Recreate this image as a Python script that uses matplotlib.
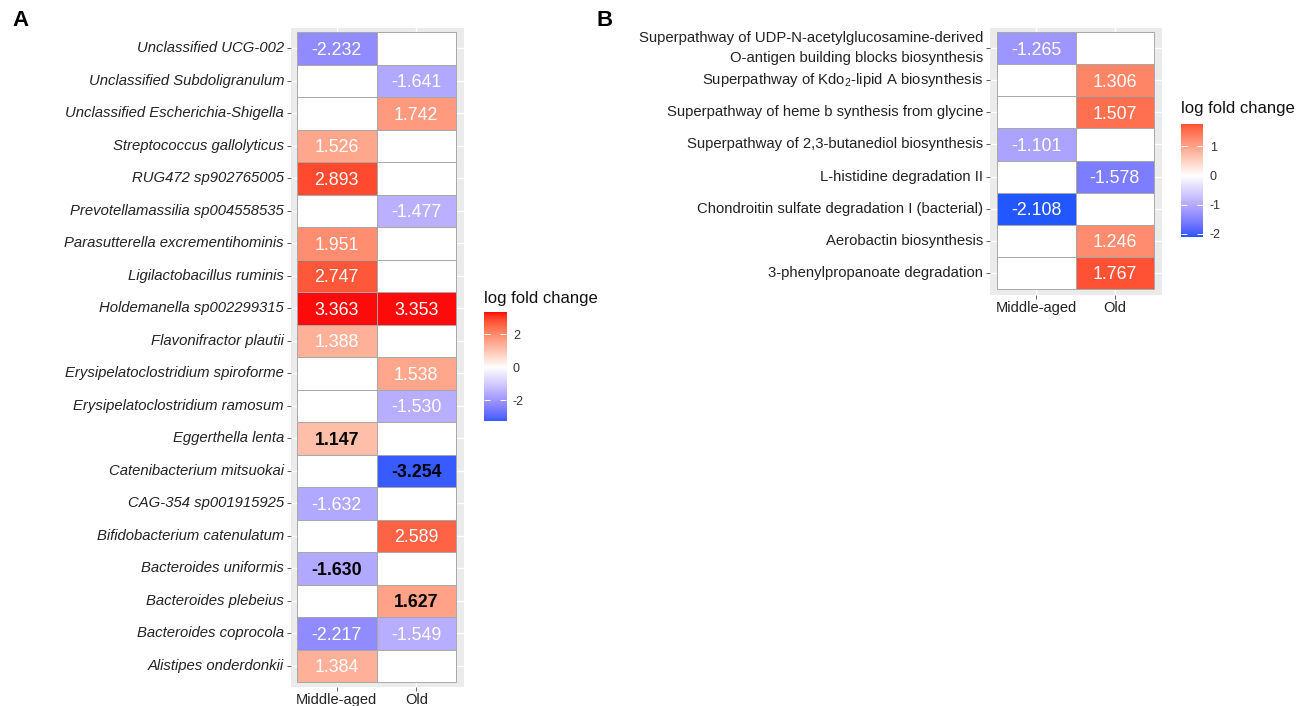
import numpy as np
import matplotlib
matplotlib.use("Agg")
import matplotlib.pyplot as plt
from matplotlib.colors import ListedColormap, Normalize

plt.rcParams['font.family'] = ['Liberation Sans', 'DejaVu Sans']
plt.rcParams['mathtext.fontset'] = 'custom'
plt.rcParams['mathtext.rm'] = 'Liberation Sans'
plt.rcParams['axes.unicode_minus'] = False

groups = ["Middle-aged", "Old"]

taxa = [
    "Unclassified UCG-002", "Unclassified Subdoligranulum",
    "Unclassified Escherichia-Shigella", "Streptococcus gallolyticus",
    "RUG472 sp902765005", "Prevotellamassilia sp004558535",
    "Parasutterella excrementihominis", "Ligilactobacillus ruminis",
    "Holdemanella sp002299315", "Flavonifractor plautii",
    "Erysipelatoclostridium spiroforme", "Erysipelatoclostridium ramosum",
    "Eggerthella lenta", "Catenibacterium mitsuokai",
    "CAG-354 sp001915925", "Bifidobacterium catenulatum",
    "Bacteroides uniformis", "Bacteroides plebeius",
    "Bacteroides coprocola", "Alistipes onderdonkii",
]
taxa_middle = [-2.232, np.nan, np.nan, 1.526, 2.893, np.nan, 1.951, 2.747, 3.363, 1.388,
               np.nan, np.nan, 1.147, np.nan, -1.632, np.nan, -1.630, np.nan, -2.217, 1.384]
taxa_old = [np.nan, -1.641, 1.742, np.nan, np.nan, -1.477, np.nan, np.nan, 3.353, np.nan,
            1.538, -1.530, np.nan, -3.254, np.nan, 2.589, np.nan, 1.627, -1.549, np.nan]
# cells whose value is printed in bold black
taxa_bold = [(12, 0), (13, 1), (16, 0), (17, 1)]

pathways = [
    "Superpathway of UDP-N-acetylglucosamine-derived\nO-antigen building blocks biosynthesis",
    "Superpathway of Kdo$_\\mathregular{2}$-lipid A biosynthesis",
    "Superpathway of heme b synthesis from glycine",
    "Superpathway of 2,3-butanediol biosynthesis",
    "L-histidine degradation II",
    "Chondroitin sulfate degradation I (bacterial)",
    "Aerobactin biosynthesis",
    "3-phenylpropanoate degradation",
]
path_middle = [-1.265, np.nan, np.nan, -1.101, np.nan, -2.108, np.nan, np.nan]
path_old = [np.nan, 1.306, 1.507, np.nan, -1.578, np.nan, 1.246, 1.767]
path_bold = []

W, H = 1306, 706
LOW, HIGH = "#2256FF", "#FF0A0A"


def srgb_to_lab(c):
    c = np.asarray(c, float)
    lin = np.where(c <= 0.04045, c / 12.92, ((c + 0.055) / 1.055) ** 2.4)
    M = np.array([[0.4124, 0.3576, 0.1805], [0.2126, 0.7152, 0.0722], [0.0193, 0.1192, 0.9505]])
    xyz = M @ lin / np.array([0.95047, 1.0, 1.08883])
    f = np.where(xyz > 0.008856, np.cbrt(xyz), 7.787 * xyz + 16 / 116)
    return np.array([116 * f[1] - 16, 500 * (f[0] - f[1]), 200 * (f[1] - f[2])])


def lab_to_srgb(lab):
    L, a, b = lab
    fy = (L + 16) / 116
    f = np.array([fy + a / 500, fy, fy - b / 200])
    xyz = np.where(f ** 3 > 0.008856, f ** 3, (f - 16 / 116) / 7.787) * np.array([0.95047, 1.0, 1.08883])
    Minv = np.array([[3.2406, -1.5372, -0.4986], [-0.9689, 1.8758, 0.0415], [0.0557, -0.2040, 1.0570]])
    lin = np.clip(Minv @ xyz, 0, 1)
    return np.clip(np.where(lin <= 0.0031308, 12.92 * lin, 1.055 * lin ** (1 / 2.4) - 0.055), 0, 1)


def gradient2(low, high, n=256):
    lo = srgb_to_lab(matplotlib.colors.to_rgb(low))
    mid = srgb_to_lab((1, 1, 1))
    hi = srgb_to_lab(matplotlib.colors.to_rgb(high))
    cols = []
    for t in np.linspace(0, 1, n):
        if t < 0.5:
            lab = lo + (mid - lo) * (t / 0.5)
        else:
            lab = mid + (hi - mid) * ((t - 0.5) / 0.5)
        cols.append(lab_to_srgb(lab))
    return ListedColormap(cols)


cmap = gradient2(LOW, HIGH)


def fax(fig, x0, y0, x1, y1):
    return fig.add_axes([x0 / W, 1 - y1 / H, (x1 - x0) / W, (y1 - y0) / H])


def heatmap(fig, box, cells, labels, mid, old, bold, italic, cbox, ticks, title_y):
    ax = fax(fig, *box)
    vals = np.array([mid, old]).T
    m = np.nanmax(np.abs(vals))
    norm = Normalize(-m, m)
    n = len(labels)
    ax.set_facecolor("#EBEBEB")
    ax.set_axisbelow(True)
    for i in range(n):
        for j in range(2):
            v = vals[i, j]
            fc = "white" if np.isnan(v) else cmap(norm(v))
            ax.add_patch(plt.Rectangle((j, i), 1, 1, facecolor=fc, edgecolor="#A8A8A8", lw=0.7, zorder=2))
            if not np.isnan(v):
                isb = (i, j) in bold
                ax.text(j + 0.5, i + 0.5, f"{v:.3f}", ha="center", va="center_baseline", fontsize=12.8,
                        color="black" if isb else "white", fontweight="bold" if isb else "normal", zorder=3)
    # cell pixel extents -> axis limits
    cx0, cy0, cx1, cy1 = cells
    px = (cx1 - cx0) / 2
    py = (cy1 - cy0) / n
    ax.set_xlim(-(cx0 - box[0]) / px, 2 + (box[2] - cx1) / px)
    ax.set_ylim(n + (box[3] - cy1) / py, -(cy0 - box[1]) / py)
    ax.set_xticks([0.5, 1.5])
    ax.set_xticklabels(groups, fontsize=10.5, color="#222222")
    ax.set_yticks(np.arange(n) + 0.5)
    ax.set_yticklabels(labels, fontsize=10.7, color="#222222", style="italic" if italic else "normal")
    for t in ax.get_yticklabels():
        t.set_linespacing(1.55)
        t.set_verticalalignment("center")
    ax.tick_params(length=3, width=0.6, color="#444444", pad=2)
    ax.tick_params(axis="x", pad=1)
    ax.grid(color="white", lw=1)
    for s in ax.spines.values():
        s.set_visible(False)

    # colour bar limited to the data range
    lo, hi = np.nanmin(vals), np.nanmax(vals)
    cax = fax(fig, *cbox)
    grad = np.linspace(lo, hi, 256)[:, None]
    cax.imshow(grad, extent=[0, 1, lo, hi], origin="lower", aspect="auto", cmap=cmap, norm=norm)
    cax.set_xlim(0, 1)
    cax.set_ylim(lo, hi)
    cax.set_xticks([])
    cax.set_yticks(ticks)
    cax.yaxis.set_ticks_position("both")
    cax.yaxis.set_label_position("right")
    cax.tick_params(axis="y", direction="in", length=4, width=0.7, color="white",
                    labelleft=False, labelright=True, labelsize=9, labelcolor="#333333", pad=5)
    for s in cax.spines.values():
        s.set_visible(False)
    fig.text(cbox[0] / W, 1 - title_y / H, "log fold change", fontsize=12, va="center", ha="left",
             color="#111111")
    return ax


fig = plt.figure(figsize=(W / 100, H / 100), dpi=100)

heatmap(fig, (291, 28, 464, 687), (297, 32, 456, 682), taxa, taxa_middle, taxa_old, taxa_bold,
        True, (484, 312, 506, 421), [-2, 0, 2], 298)
heatmap(fig, (990, 28, 1162, 295), (997, 32, 1154, 289), pathways, path_middle, path_old, path_bold,
        False, (1181, 124, 1203, 237), [-2, -1, 0, 1], 109)

fig.text(12 / W, 1 - 20 / H, "A", fontsize=16, fontweight="bold", va="center", ha="left")
fig.text(597 / W, 1 - 20 / H, "B", fontsize=16, fontweight="bold", va="center", ha="left")

fig.savefig("out.png", dpi=100)
